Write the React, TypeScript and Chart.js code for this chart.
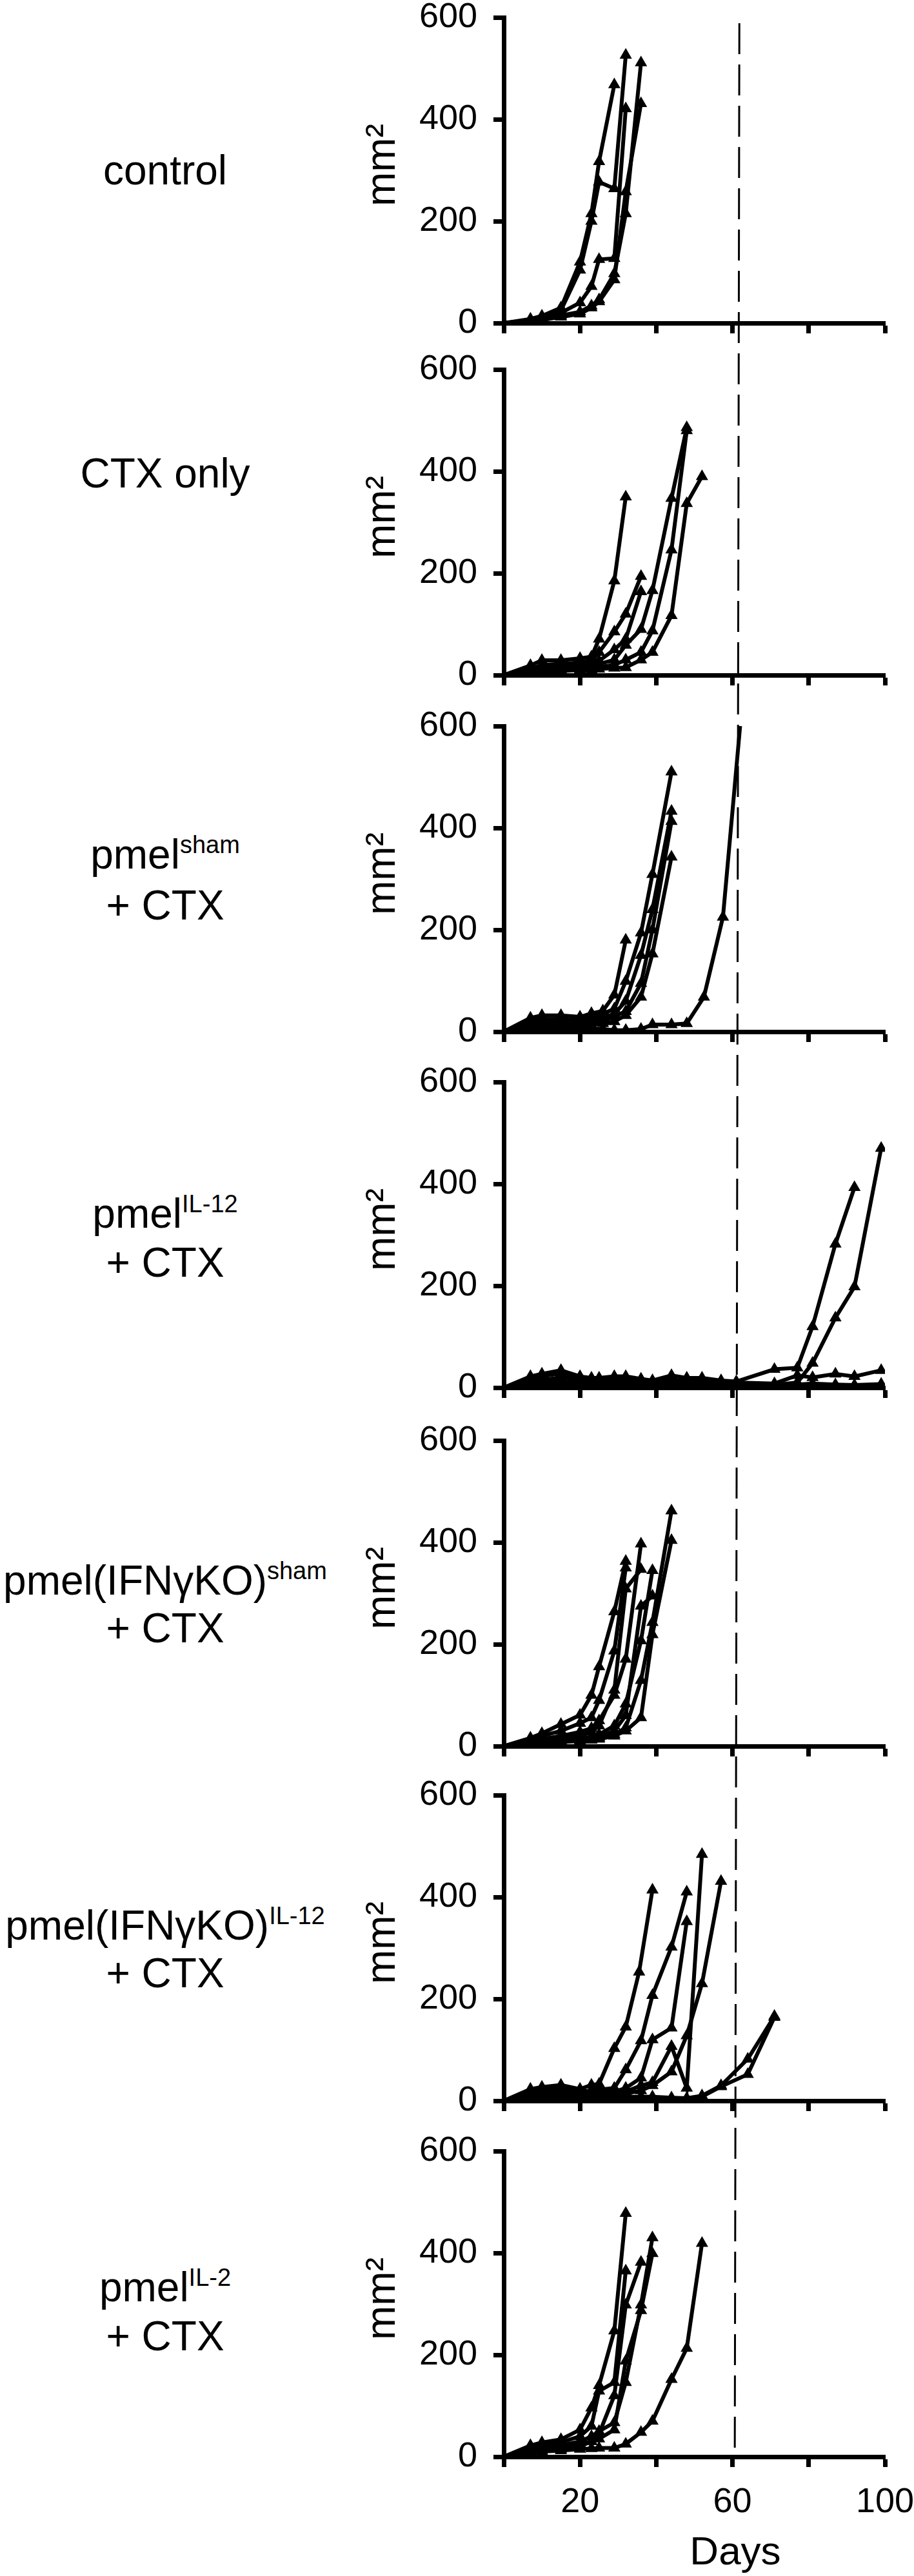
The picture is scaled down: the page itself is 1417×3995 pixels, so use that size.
import React, { useEffect, useRef } from 'react';
import { Chart, registerables } from 'chart.js';

Chart.register(...registerables);

// ---------- text / ticks ----------
const FONT = '"Liberation Sans", Arial, Helvetica, sans-serif';
const X_TICKS = [0, 20, 40, 60, 80, 100];
const X_TICK_LABELS = ['', '20', '', '60', '', '100'];
const Y_TICKS = [0, 200, 400, 600];
const Y_TICK_LABELS = ['0', '200', '400', '600'];
const X_TITLE = 'Days';
const Y_TITLE = 'mm²';

// reference line (day ~60), slightly skewed in the original figure
const DASH_DAY_TOP = 61.8;
const DASH_DAY_BOTTOM = 60.6;

// ---------- group labels ----------
const GROUP_MAIN = ['control', 'CTX only', 'pmel', 'pmel', 'pmel(IFNγKO)', 'pmel(IFNγKO)', 'pmel'];
const GROUP_SUP = ['', '', 'sham', 'IL-12', 'sham', 'IL-12', 'IL-2'];
const GROUP_LINE2 = ['', '', '+ CTX', '+ CTX', '+ CTX', '+ CTX', '+ CTX'];

// ---------- data: [day, tumour area mm²] per mouse ----------
const CONTROL = [
  [[0, 0], [7, 8], [10, 14], [15, 30], [20, 120], [23, 215], [25, 317], [29, 468]],
  [[0, 0], [7, 6], [10, 12], [15, 25], [20, 104], [23, 200], [25, 277], [29, 264], [32, 526]],
  [[0, 0], [7, 5], [10, 10], [15, 20], [20, 40], [23, 72], [25, 125], [29, 127], [32, 421]],
  [[0, 0], [7, 4], [10, 8], [15, 15], [20, 22], [23, 34], [25, 46], [29, 97], [32, 215], [36, 511]],
  [[0, 0], [7, 3], [10, 6], [15, 12], [20, 18], [23, 30], [25, 42], [29, 85], [32, 258], [36, 431]],
];

const CTX_ONLY = [
  [[0, 0], [7, 19], [10, 29], [15, 29], [20, 33], [23, 36], [25, 71], [29, 185], [32, 350]],
  [[0, 0], [7, 12], [10, 20], [15, 22], [20, 25], [23, 28], [25, 45], [29, 85], [32, 120], [36, 194]],
  [[0, 0], [7, 8], [10, 15], [15, 18], [20, 20], [23, 22], [25, 28], [29, 50], [32, 71], [36, 164]],
  [[0, 0], [7, 6], [10, 10], [15, 12], [20, 15], [23, 18], [25, 22], [29, 30], [32, 59], [36, 90], [39, 166], [44, 347], [48, 486]],
  [[0, 0], [7, 5], [10, 8], [15, 10], [20, 12], [23, 14], [25, 16], [29, 20], [32, 30], [36, 45], [39, 87], [44, 246], [48, 480]],
  [[0, 0], [7, 4], [10, 6], [15, 8], [20, 10], [23, 10], [25, 12], [29, 14], [32, 15], [36, 30], [39, 45], [44, 117], [48, 337], [52, 390]],
];

const PMEL_SHAM = [
  [[0, 0], [7, 27], [10, 32], [15, 32], [20, 29], [23, 36], [26, 41], [29, 72], [32, 180]],
  [[0, 0], [7, 20], [10, 25], [15, 25], [20, 22], [23, 30], [26, 35], [29, 45], [32, 99], [36, 194], [39, 309], [44, 510]],
  [[0, 0], [7, 15], [10, 20], [15, 20], [20, 18], [23, 25], [26, 28], [29, 35], [32, 60], [36, 150], [39, 240], [44, 433]],
  [[0, 0], [7, 10], [10, 15], [15, 15], [20, 14], [23, 18], [26, 20], [29, 30], [32, 40], [36, 95], [39, 200], [44, 413]],
  [[0, 0], [7, 8], [10, 10], [15, 10], [20, 10], [23, 14], [26, 16], [29, 20], [32, 32], [36, 68], [39, 153], [44, 343]],
  [[0, 0], [7, 5], [10, 5], [15, 5], [20, 5], [23, 5], [26, 5], [29, 3], [32, 3], [36, 5], [39, 14], [44, 14], [48, 16], [52.5, 68], [57.5, 225], [62, 600]],
];

const PMEL_IL12 = [
  [[0, 0], [7, 22], [10, 27], [15, 34], [20, 22], [23, 19], [25, 19], [29, 22], [32, 22], [36, 17], [39, 14], [44, 24], [48, 19], [52, 19], [57, 14], [61, 12], [71, 36], [77, 39], [81, 120], [87, 282], [92, 393]],
  [[0, 0], [7, 18], [10, 22], [15, 28], [20, 18], [23, 15], [25, 16], [29, 18], [32, 18], [36, 14], [39, 12], [44, 15], [48, 14], [52, 16], [57, 10], [61, 8], [71, 5], [77, 10], [81, 48], [87, 137], [92, 198], [99, 470]],
  [[0, 0], [7, 12], [10, 15], [15, 20], [20, 14], [23, 12], [25, 12], [29, 14], [32, 12], [36, 10], [39, 8], [44, 10], [48, 10], [52, 10], [57, 8], [61, 10], [71, 8], [77, 24], [81, 20], [87, 27], [92, 22], [99, 34]],
  [[0, 0], [7, 8], [10, 10], [15, 12], [20, 8], [23, 8], [25, 8], [29, 8], [32, 8], [36, 6], [39, 6], [44, 6], [48, 6], [52, 5], [57, 5], [61, 6], [71, 4], [77, 6], [81, 8], [87, 6], [92, 5], [99, 7]],
  [[0, 0], [7, 5], [10, 6], [15, 8], [20, 5], [23, 5], [25, 5], [29, 5], [32, 4], [36, 4], [39, 4], [44, 3], [48, 3], [52, 3], [57, 3], [61, 3], [71, 2], [77, 2], [81, 2], [87, 2], [92, 2], [99, 2]],
  [[0, 0], [7, 3], [10, 4], [15, 5], [20, 3], [23, 3], [25, 3], [29, 3], [32, 2], [36, 2], [39, 2], [44, 2], [48, 2], [52, 2], [57, 2], [61, 2], [71, 1], [77, 1], [81, 1], [87, 1], [92, 1], [99, 1]],
];

const IFNG_SHAM = [
  [[0, 0], [7, 16], [10, 25], [15, 43], [20, 61], [23, 100], [25, 156], [29, 264], [32, 363]],
  [[0, 0], [7, 12], [10, 20], [15, 30], [20, 45], [23, 56], [25, 90], [29, 187], [32, 350]],
  [[0, 0], [7, 8], [10, 14], [15, 20], [20, 28], [23, 35], [25, 50], [29, 100], [32, 171], [36, 397]],
  [[0, 0], [7, 6], [10, 10], [15, 15], [20, 20], [23, 28], [25, 40], [29, 110], [32, 309], [36, 347]],
  [[0, 0], [7, 5], [10, 8], [15, 12], [20, 15], [23, 18], [25, 23], [29, 40], [32, 83], [36, 207], [39, 345]],
  [[0, 0], [7, 4], [10, 6], [15, 10], [20, 12], [23, 15], [25, 16], [29, 23], [32, 36], [36, 129], [39, 243], [44, 462]],
  [[0, 0], [7, 3], [10, 5], [15, 8], [20, 10], [23, 12], [25, 14], [29, 20], [32, 30], [36, 56], [39, 219], [44, 404]],
  [[0, 0], [7, 4], [10, 6], [15, 9], [20, 12], [23, 14], [25, 18], [29, 30], [32, 60], [36, 275], [39, 295]],
];

const IFNG_IL12 = [
  [[0, 0], [7, 23], [10, 27], [15, 31], [20, 23], [23, 31], [25, 33], [29, 103], [32, 145], [35.5, 253], [39, 414]],
  [[0, 0], [7, 18], [10, 22], [15, 25], [20, 18], [23, 20], [25, 22], [29, 25], [32, 61], [36, 118], [39, 207], [44, 302], [48, 410]],
  [[0, 0], [7, 14], [10, 16], [15, 18], [20, 14], [23, 15], [25, 16], [29, 18], [32, 25], [36, 45], [39, 120], [44, 143], [48, 352]],
  [[0, 0], [7, 10], [10, 12], [15, 14], [20, 10], [23, 12], [25, 12], [29, 14], [32, 18], [36, 30], [39, 36], [44, 107], [48, 25], [52, 484]],
  [[0, 0], [7, 8], [10, 10], [15, 12], [20, 8], [23, 10], [25, 10], [29, 12], [32, 14], [36, 20], [39, 30], [44, 57], [48, 128], [52, 230], [57, 431]],
  [[0, 0], [7, 6], [10, 8], [15, 9], [20, 6], [23, 7], [25, 8], [29, 8], [32, 8], [36, 8], [39, 8], [44, 6], [48, 5], [52, 10], [57, 30], [64, 82], [71, 166]],
  [[0, 0], [7, 4], [10, 5], [15, 6], [20, 4], [23, 5], [25, 5], [29, 5], [32, 5], [36, 5], [39, 5], [44, 4], [48, 4], [52, 8], [57, 28], [64, 52], [71, 164]],
];

const PMEL_IL2 = [
  [[0, 0], [7, 22], [10, 28], [15, 34], [20, 53], [23, 96], [25, 140], [29, 247], [32, 478]],
  [[0, 0], [7, 18], [10, 22], [15, 28], [20, 40], [23, 60], [25, 129], [29, 146], [32, 365]],
  [[0, 0], [7, 15], [10, 18], [15, 22], [20, 30], [23, 40], [25, 50], [29, 67], [32, 146], [36, 298], [39, 430]],
  [[0, 0], [7, 12], [10, 15], [15, 18], [20, 25], [23, 30], [25, 35], [29, 53], [32, 188], [36, 287], [39, 399]],
  [[0, 0], [7, 10], [10, 12], [15, 15], [20, 20], [23, 30], [25, 45], [29, 120], [32, 298], [36, 382]],
  [[0, 0], [7, 8], [10, 10], [15, 12], [20, 15], [23, 16], [25, 17], [29, 17], [32, 25], [36, 48], [39, 70], [44, 152], [48, 213], [52, 419]],
];

const PANEL_SERIES = [CONTROL, CTX_ONLY, PMEL_SHAM, PMEL_IL12, IFNG_SHAM, IFNG_IL12, PMEL_IL2];

// ---------- layout (page pixels) ----------
const PAGE_W = 1417;
const PAGE_H = 3995;
const PLOT_TOPS = [27, 573, 1126, 1678, 2234, 2784, 3336];
const PLOT_H = 474;
const MARGIN_TOP = 30;
const CANVAS_LEFT = 600;
const CANVAS_W = PAGE_W - CANVAS_LEFT;
const Y_AXIS_W = 181;
const PAD_RIGHT = 45;
const DASH_Y_START = 36;
const DASH_Y_END = 3810;
const LABEL_CX = 256;
const LABEL_LINE_Y = [[264], [734], [1325, 1404], [1882, 1958], [2451, 2525], [2986, 3060], [3547, 3623]];
const YTITLE_CX = 590;
const XTITLE_CX = 1140;
const XTITLE_CY = 3956;

const dashPlugin = {
  id: 'refLine',
  beforeDatasetsDraw(chart: any, _args: any, opts: any) {
    const pageTop = opts.pageTop as number;
    const x = chart.scales.x;
    const y0 = Math.max(0, DASH_Y_START - pageTop);
    const y1 = Math.min(chart.height, DASH_Y_END - pageTop);
    if (y1 <= y0) return;
    const dayAt = (py: number) =>
      DASH_DAY_TOP + (DASH_DAY_BOTTOM - DASH_DAY_TOP) * (py - DASH_Y_START) / (DASH_Y_END - DASH_Y_START);
    const ctx = chart.ctx;
    ctx.save();
    ctx.strokeStyle = '#000';
    ctx.lineWidth = 3;
    ctx.setLineDash([48, 16]);
    ctx.lineDashOffset = (pageTop + y0 - DASH_Y_START) % 64;
    ctx.beginPath();
    ctx.moveTo(x.getPixelForValue(dayAt(pageTop + y0)), y0);
    ctx.lineTo(x.getPixelForValue(dayAt(pageTop + y1)), y1);
    ctx.stroke();
    ctx.restore();
  },
};

function Panel({ index }: { index: number }) {
  const ref = useRef<HTMLCanvasElement>(null);
  const top = PLOT_TOPS[index] - MARGIN_TOP;
  const last = index === PLOT_TOPS.length - 1;
  const height = last ? PAGE_H - top : PLOT_TOPS[index + 1] - PLOT_TOPS[index];

  useEffect(() => {
    const xH = height - MARGIN_TOP - PLOT_H;
    const series = PANEL_SERIES[index];
    const tickFont = { family: FONT, size: 54, lineHeight: 1 };
    const chart = new Chart(ref.current as HTMLCanvasElement, {
      type: 'line',
      data: {
        datasets: series.map((s) => ({
          data: s.map(([d, v]) => ({ x: d, y: v })),
          borderColor: '#000',
          backgroundColor: '#000',
          borderWidth: 6,
          tension: 0,
          fill: false,
          pointStyle: 'triangle',
          pointRadius: (c: any) => (c.raw && c.raw.y >= 600 ? 0 : 9.5),
          pointBackgroundColor: '#000',
          pointBorderColor: '#000',
          pointBorderWidth: 1.5,
        })),
      },
      options: {
        responsive: false,
        maintainAspectRatio: false,
        animation: false,
        events: [],
        layout: { padding: { top: MARGIN_TOP, right: PAD_RIGHT, left: 0, bottom: 0 } },
        plugins: {
          legend: { display: false },
          tooltip: { enabled: false },
          refLine: { pageTop: top },
        } as any,
        scales: {
          x: {
            type: 'linear',
            min: 0,
            max: 100,
            afterFit: (s: any) => { s.height = xH; s.paddingLeft = 0; s.paddingRight = 0; },
            afterBuildTicks: (s: any) => { s.ticks = X_TICKS.map((v) => ({ value: v })); },
            ticks: {
              autoSkip: false,
              maxRotation: 0,
              color: '#000',
              font: tickFont,
              padding: 28,
              callback: (v: any) => (last ? X_TICK_LABELS[X_TICKS.indexOf(Number(v))] ?? '' : ''),
            },
            grid: { drawOnChartArea: false, drawTicks: true, tickLength: 16, tickWidth: 7, tickColor: '#000' },
            border: { display: true, color: '#000', width: 7 },
          },
          y: {
            type: 'linear',
            min: 0,
            max: 600,
            afterFit: (s: any) => { s.width = Y_AXIS_W; s.paddingTop = 0; s.paddingBottom = 0; },
            afterBuildTicks: (s: any) => { s.ticks = Y_TICKS.map((v) => ({ value: v })); },
            ticks: {
              color: '#000',
              font: tickFont,
              padding: 25,
              callback: (v: any) => Y_TICK_LABELS[Y_TICKS.indexOf(Number(v))] ?? '',
            },
            grid: { drawOnChartArea: false, drawTicks: true, tickLength: 16, tickWidth: 7, tickColor: '#000' },
            border: { display: true, color: '#000', width: 7 },
          },
        },
      } as any,
      plugins: [dashPlugin as any],
    });
    return () => chart.destroy();
  }, []);

  return (
    <canvas
      ref={ref}
      width={CANVAS_W}
      height={height}
      style={{ position: 'absolute', left: CANVAS_LEFT, top, width: CANVAS_W, height }}
    />
  );
}

function GroupLabel({ index }: { index: number }) {
  const ys = LABEL_LINE_Y[index];
  const lineH = 76;
  return (
    <>
      <div
        style={{
          position: 'absolute', left: LABEL_CX - 300, width: 600, top: ys[0] - lineH / 2, height: lineH,
          lineHeight: lineH + 'px', fontSize: 64, fontFamily: FONT, textAlign: 'center', whiteSpace: 'nowrap', color: '#000',
        }}
      >
        {GROUP_MAIN[index]}
        {GROUP_SUP[index] ? (
          <span style={{ fontSize: 38, verticalAlign: '24px', lineHeight: 0 }}>{GROUP_SUP[index]}</span>
        ) : null}
      </div>
      {GROUP_LINE2[index] ? (
        <div
          style={{
            position: 'absolute', left: LABEL_CX - 300, width: 600, top: ys[1] - lineH / 2, height: lineH,
            lineHeight: lineH + 'px', fontSize: 64, fontFamily: FONT, textAlign: 'center', whiteSpace: 'nowrap', color: '#000',
          }}
        >
          {GROUP_LINE2[index]}
        </div>
      ) : null}
    </>
  );
}

function YTitle({ index }: { index: number }) {
  const cy = PLOT_TOPS[index] + PLOT_H / 2 - 8;
  return (
    <div
      style={{
        position: 'absolute', left: YTITLE_CX - 100, top: cy - 32, width: 200, height: 64, lineHeight: '64px',
        fontSize: 64, fontFamily: FONT, textAlign: 'center', transform: 'rotate(-90deg)', color: '#000', whiteSpace: 'nowrap',
      }}
    >
      {Y_TITLE}
    </div>
  );
}

export default function App() {
  return (
    <div
      style={{
        position: 'absolute', left: 0, top: 0, width: PAGE_W, height: PAGE_H, overflow: 'hidden', background: '#fff',
      }}
    >
      {PANEL_SERIES.map((_, i) => (
        <React.Fragment key={i}>
          <GroupLabel index={i} />
          <YTitle index={i} />
          <Panel index={i} />
        </React.Fragment>
      ))}
      <div
        style={{
          position: 'absolute', left: XTITLE_CX - 150, width: 300, top: XTITLE_CY - 35, height: 70, lineHeight: '70px',
          fontSize: 62, fontFamily: FONT, textAlign: 'center', color: '#000',
        }}
      >
        {X_TITLE}
      </div>
    </div>
  );
}
